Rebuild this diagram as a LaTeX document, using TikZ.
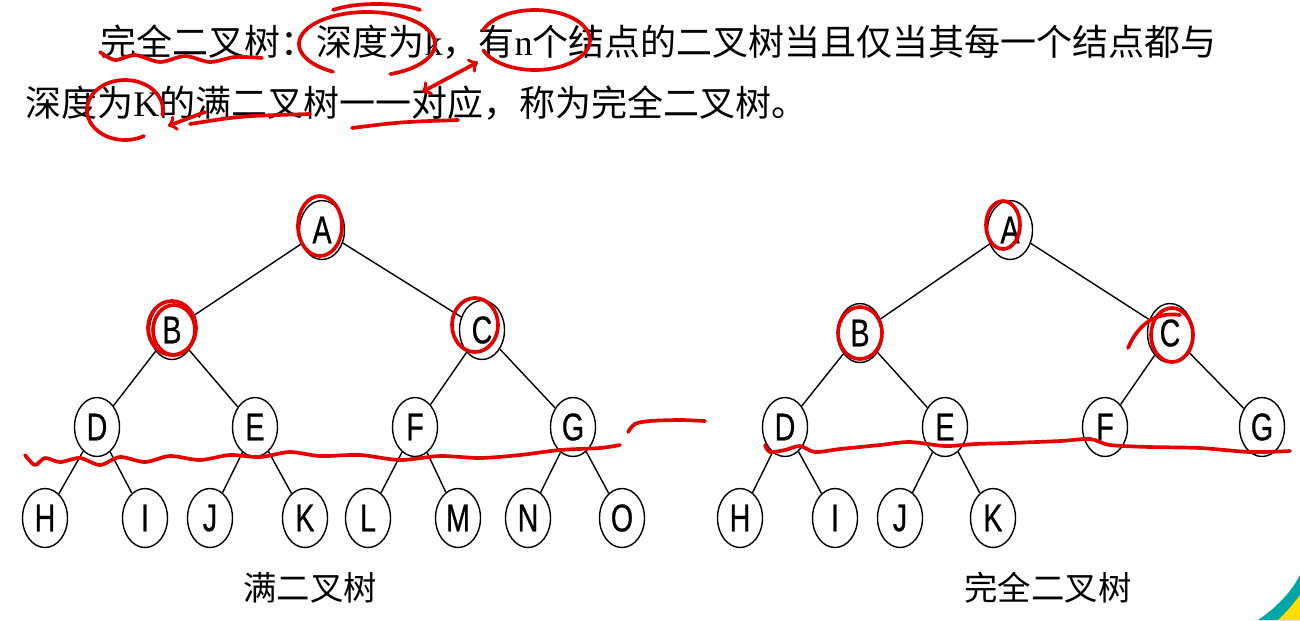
\documentclass[tikz,border=0pt]{standalone}
\usepackage{fontspec}
\setmainfont{Liberation Serif}
\newfontfamily\cjk{Noto Sans CJK SC}
\newfontfamily\letterfont[FakeStretch=0.74, FakeBold=0.6]{Liberation Sans}
\usetikzlibrary{shapes.geometric}

\begin{document}
\begin{tikzpicture}[x=0.02cm, y=-0.02cm,
  bt/.style={draw, ellipse, line width=0.8pt, minimum width=0.9cm, minimum height=1.18cm, inner sep=0pt, font=\letterfont\fontsize{22}{22}\selectfont},
  link/.style={line width=0.8pt},
  pen/.style={red!90!black, line width=2.1pt, line cap=round, line join=round},
  caption/.style={font=\cjk\fontsize{19}{22}\selectfont},
  statement/.style={anchor=west, inner sep=0pt, font=\fontsize{20.5}{24}\selectfont}]
\useasboundingbox (0,0) rectangle (1300,620);
\node[statement] (line1) at (100,42) {{\cjk 完全二叉树：深度为}k{\cjk ，有}n{\cjk 个结点的二叉树当且仅当其每一个结点都与}};
\node[statement] (line2) at (25,103) {{\cjk 深度为}K{\cjk 的满二叉树一一对应，称为完全二叉树。}};
\foreach \n/\x/\y in {A/322/230, B/172/330, C/482/330, D/97/427, E/255/427, F/415/427, G/573/427, H/45/518, I/145/518, J/210/518, K/305/518, L/368/518, M/458/518, N/528/518, O/622/518}
  \node[bt] (f\n) at (\x,\y) {\n};
\foreach \n/\x/\y in {A/1010/230, B/860/333, C/1170/333, D/785/427, E/945/427, F/1105/427, G/1262/427, H/740/518, I/835/518, J/900/518, K/993/518}
  \node[bt] (c\n) at (\x,\y) {\n};
\foreach \p/\q in {A/B, A/C, B/D, B/E, C/F, C/G, D/H, D/I, E/J, E/K, F/L, F/M, G/N, G/O}
  \draw[link] (f\p) -- (f\q);
\foreach \p/\q in {A/B, A/C, B/D, B/E, C/F, C/G, D/H, D/I, E/J, E/K}
  \draw[link] (c\p) -- (c\q);
\node[caption] (fcap) at (310,588) {满二叉树};
\node[caption] (ccap) at (1048,588) {完全二叉树};
\draw[pen] plot[smooth] coordinates {(100,52) (115,60) (135,55) (160,62) (185,56) (210,62) (235,57) (262,58)};
\draw[pen] (333,10) .. controls (355,2) and (400,2) .. (420,10);
\draw[pen] (367,44) ++(120:68 and 32) arc[start angle=120, end angle=430, x radius=68, y radius=32];
\draw[pen] (535,40) ++(200:55 and 30) arc[start angle=200, end angle=520, x radius=55, y radius=30];
\draw[pen, <->] (422,92) -- (478,62);
\draw[pen] (125,110) ++(60:38 and 30) arc[start angle=60, end angle=370, x radius=38, y radius=30];
\draw[pen, ->] (205,112) -- (168,126);
\draw[pen] (190,124) .. controls (240,116) .. (310,114);
\draw[pen] (352,128) .. controls (400,122) .. (458,120);
\draw[pen] (320,226) ellipse [x radius=22, y radius=30];
\draw[pen] (172,328) ellipse [x radius=24, y radius=27];
\draw[pen] (174,330) ellipse [x radius=21, y radius=25];
\draw[pen] (475,325) ellipse [x radius=23, y radius=27];
\draw[pen] (1003,225) ellipse [x radius=17, y radius=24];
\draw[pen] (860,333) ellipse [x radius=22, y radius=26];
\draw[pen] (1172,335) ellipse [x radius=21, y radius=27];
\draw[pen] (1128,348) .. controls (1140,320) and (1160,312) .. (1180,315);
\draw[pen] plot[smooth] coordinates {(25,455) (35,465) (45,458) (60,462) (80,458) (100,465) (120,457) (145,462) (170,456) (200,460) (230,455) (260,457) (290,452) (320,456) (360,455) (400,460) (440,456) (480,458) (520,455) (560,450) (600,448) (620,445)};
\draw[pen] plot[smooth] coordinates {(628,432) (635,424) (650,421) (680,420) (705,421)};
\draw[pen] plot[smooth] coordinates {(765,445) (770,452) (785,450) (800,446) (815,452) (840,449) (880,445) (910,442) (945,446) (975,444) (1010,443) (1060,441) (1090,439) (1110,445) (1150,447) (1200,448) (1250,452) (1290,451)};
\fill[teal!70!cyan] (1258,620) .. controls (1280,605) and (1292,590) .. (1300,575) -- (1300,620) -- cycle;
\fill[yellow!80!orange] (1278,620) .. controls (1290,608) .. (1300,595) -- (1300,620) -- cycle;
\end{tikzpicture}
\end{document}
